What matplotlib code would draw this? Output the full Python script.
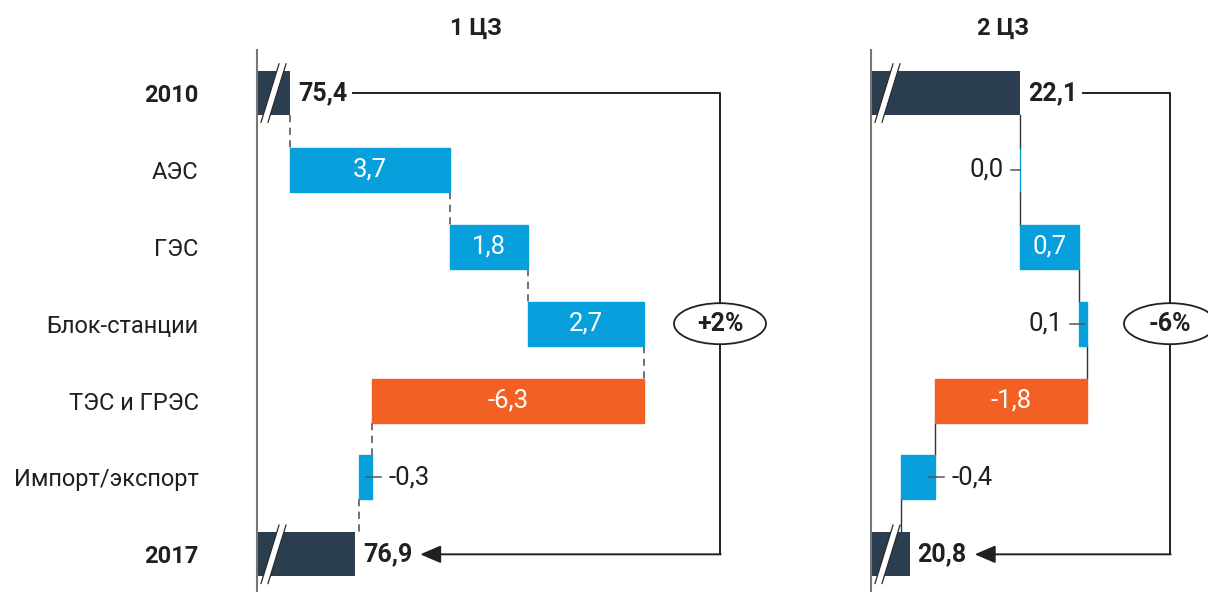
import matplotlib
matplotlib.use('Agg')
import matplotlib.pyplot as plt
from matplotlib.transforms import blended_transform_factory
from matplotlib.patches import Ellipse, Polygon
from matplotlib.lines import Line2D

plt.rcParams['font.family'] = ['Roboto', 'DejaVu Sans']

# ---------------- data ----------------
categories = ['2010', 'АЭС', 'ГЭС', 'Блок-станции', 'ТЭС и ГРЭС', 'Импорт/экспорт', '2017']
titles = ['1 ЦЗ', '2 ЦЗ']
start_values = [75.4, 22.1]
end_values = [76.9, 20.8]
deltas_1 = [3.7, 1.8, 2.7, -6.3, -0.3]
deltas_2 = [0.0, 0.7, 0.1, -1.8, -0.4]
changes = ['+2%', '-6%']

# ---------------- style ----------------
NAVY = '#2b3e50'
BLUE = '#08a0dc'
ORANGE = '#f26024'
TXT = '#231f20'
GREY = '#777777'
FS = 17
VFS = 18.5

W, H = 1208, 592
fig = plt.figure(figsize=(W / 100, H / 100), dpi=100)


def px_axes(l, r, t, b):
    return fig.add_axes([l / W, 1 - b / H, (r - l) / W, (b - t) / H])


def fmt(v):
    return f'{v:.1f}'.replace('.', ',')


def panel(ax, start, deltas, end, change, xlim, bracket_px, dashed, title, title_x):
    n = len(deltas) + 2
    ax.set_xlim(*xlim)
    ax.set_ylim(n - 0.51, -0.56)
    axw = ax.bbox.width
    scale = axw / (xlim[1] - xlim[0])  # px per unit
    row_px = ax.bbox.height / (n - 0.51 + 0.56)
    bh = 44 / row_px
    trb = blended_transform_factory(ax.transAxes, ax.transData)
    for s in ['top', 'right', 'bottom']:
        ax.spines[s].set_visible(False)
    ax.spines['left'].set_color(GREY)
    ax.spines['left'].set_linewidth(1.5)
    ax.set_xticks([])

    # totals
    x0 = xlim[0]
    ax.barh([0, n - 1], [start - x0, end - x0], left=x0, height=bh, color=NAVY, zorder=2)
    # break marks
    for r in [0, n - 1]:
        yb, yt = r + 0.38, r - 0.38
        pts = [(4 / axw, yb), (11 / axw, yb), (29 / axw, yt), (22 / axw, yt)]
        ax.add_patch(Polygon(pts, closed=True, facecolor='white', edgecolor='none',
                             transform=trb, zorder=3, clip_on=False))
        for a, b in [(4, 22), (11, 29)]:
            ax.add_line(Line2D([a / axw, b / axw], [yb, yt], color='#2a2a2a', lw=0.9,
                               transform=trb, zorder=4, clip_on=False))

    # deltas
    cum = start
    prev_end = start
    conn_style = dict(color='#666666', lw=1.3, zorder=1)
    if dashed:
        conn_style['linestyle'] = (0, (4, 3))
    else:
        conn_style['color'] = '#333333'
        conn_style['lw'] = 1.0
    for i, d in enumerate(deltas):
        r = i + 1
        col = ORANGE if d <= -1 else BLUE
        ax.barh(r, d, left=cum, height=bh, color=col, edgecolor=col, lw=1.0, zorder=2)
        # connector from previous bar
        ax.plot([prev_end, prev_end], [r - 1 + bh / 2, r - bh / 2], **conn_style)
        new = cum + d
        if abs(d) * scale > 40:
            ax.text(cum + d / 2, r, fmt(d), color='white', fontsize=VFS,
                    ha='center', va='center', zorder=5)
        else:
            sgn = -1 if d >= 0 else 1
            edge = cum
            inside = 6 if abs(d) > 0 else 0
            ax.plot([edge - sgn * inside / scale, edge + sgn * 9 / scale], [r, r],
                    color='#555555', lw=1.1, zorder=5)
            ax.text(edge + sgn * 16 / scale, r, fmt(d), color=TXT, fontsize=VFS,
                    ha='left' if sgn > 0 else 'right', va='center', zorder=5)
        cum = new
        prev_end = new
    ax.plot([prev_end, prev_end], [n - 2 + bh / 2, n - 1 - bh / 2], **conn_style)

    # total labels
    t0 = ax.text(start + 8 / scale, 0, fmt(start), fontsize=FS + 1, fontweight='bold',
                 color=TXT, ha='left', va='center', zorder=5)
    t1 = ax.text(end + 8 / scale, n - 1, fmt(end), fontsize=FS + 1, fontweight='bold',
                 color=TXT, ha='left', va='center', zorder=5)
    fig.canvas.draw()
    e0 = (t0.get_window_extent().x1 - ax.bbox.x0 + 6) / axw
    e1 = (t1.get_window_extent().x1 - ax.bbox.x0 + 8) / axw
    xb = (bracket_px) / axw
    ax.plot([e0, xb, xb], [0, 0, n - 1], color=TXT, lw=1.4, transform=trb,
            zorder=3, clip_on=False)
    ax.annotate('', xy=(e1, n - 1), xytext=(xb + 0.7 / axw, n - 1), xycoords=trb,
                textcoords=trb,
                arrowprops=dict(arrowstyle='-|>,head_length=0.7,head_width=0.3',
                                color=TXT, lw=1.4, shrinkA=0, shrinkB=0,
                                mutation_scale=18), zorder=3)
    ell = Ellipse((xb, 3), 92 / axw, 41 / row_px, transform=trb, facecolor='white',
                  edgecolor=TXT, lw=1.3, zorder=6, clip_on=False)
    ax.add_patch(ell)
    ax.text(xb, 3, change, transform=trb, fontsize=FS + 1, fontweight='bold',
            color=TXT, ha='center', va='center', zorder=7)

    fig.text(title_x / W, 1 - 28 / H, title, fontsize=FS, fontweight='bold',
             color=TXT, ha='center', va='center')


ax1 = px_axes(257, 800, 50, 592)
ax2 = px_axes(871, 1208, 50, 592)

panel(ax1, start_values[0], deltas_1, end_values[0], changes[0],
      (74.632, 74.632 + 543 / 43.2), 720 - 257, True, titles[0], 476)
panel(ax2, start_values[1], deltas_2, end_values[1], changes[1],
      (20.344, 20.344 + 337 / 84.7), 1170 - 871, False, titles[1], 1003)

ax1.set_yticks(range(len(categories)))
ax1.set_yticklabels(categories, fontsize=FS, color=TXT)
ax1.tick_params(axis='y', length=0, pad=42)
for i in [0, len(categories) - 1]:
    ax1.get_yticklabels()[i].set_fontweight('bold')
ax2.set_yticks([])

fig.savefig('out.png', dpi=100)
